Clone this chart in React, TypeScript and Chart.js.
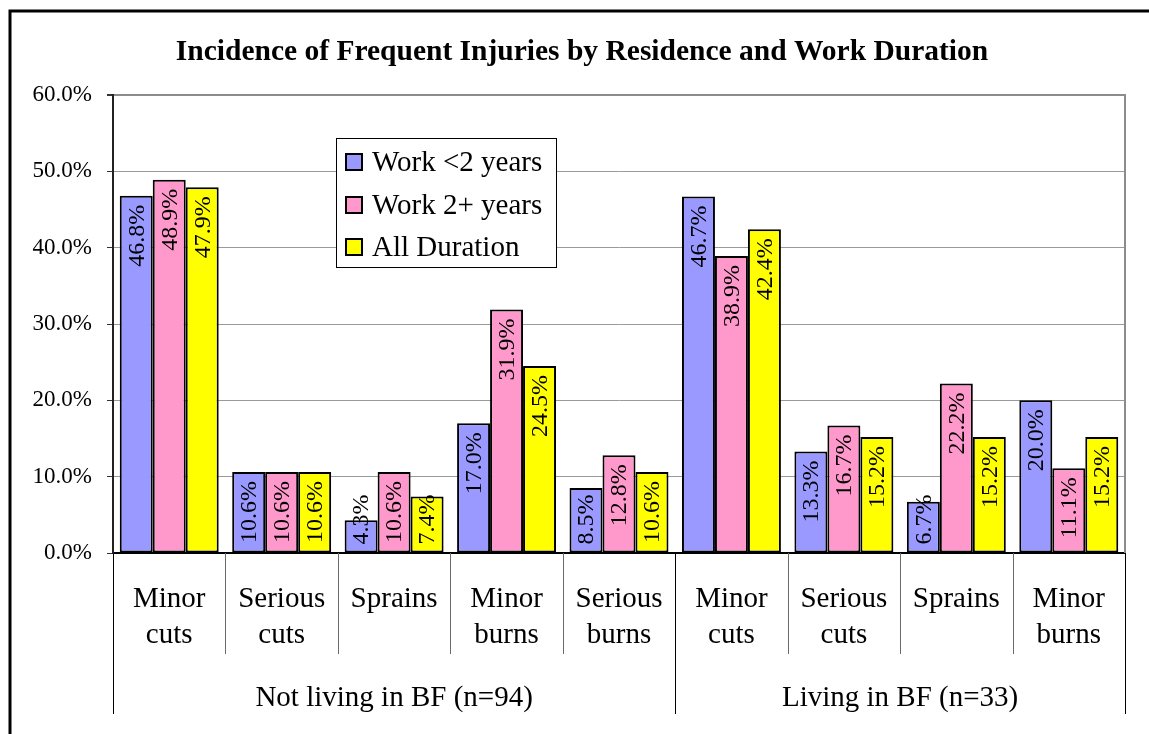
import { useEffect, useRef } from "react";
import { Chart, registerables } from "chart.js";
Chart.register(...registerables);

const categoryLines: string[][] = [
  ["Minor", "cuts"],
  ["Serious", "cuts"],
  ["Sprains"],
  ["Minor", "burns"],
  ["Serious", "burns"],
  ["Minor", "cuts"],
  ["Serious", "cuts"],
  ["Sprains"],
  ["Minor", "burns"],
];
const groupLabels = ["Not living in BF (n=94)", "Living in BF (n=33)"];
const groupSizes = [5, 4];
const seriesNames = ["Work <2 years", "Work 2+ years", "All Duration"];
const workUnder2 = [46.8, 10.6, 4.3, 17.0, 8.5, 46.7, 13.3, 6.7, 20.0];
const work2Plus = [48.9, 10.6, 10.6, 31.9, 12.8, 38.9, 16.7, 22.2, 11.1];
const allDuration = [47.9, 10.6, 7.4, 24.5, 10.6, 42.4, 15.2, 15.2, 15.2];
const seriesColors = ["#9999FF", "#FF99CC", "#FFFF00"];
const yMin = 0;
const yMax = 60;
const yStep = 10;
const titleText = "Incidence of Frequent Injuries by Residence and Work Duration";

const SERIF = "'Liberation Serif', 'Times New Roman', serif";

export default function App() {
  const ref = useRef<HTMLCanvasElement | null>(null);
  useEffect(() => {
    const canvas = ref.current;
    if (!canvas) return;

    const framePlugin = {
      id: "frame",
      beforeDraw(chart: any) {
        const ctx = chart.ctx;
        ctx.save();
        ctx.fillStyle = "#ffffff";
        ctx.fillRect(0, 0, chart.width, chart.height);
        ctx.strokeStyle = "#000000";
        ctx.lineWidth = 3;
        ctx.strokeRect(10, 11, 1300, 900);
        // title
        ctx.fillStyle = "#000";
        ctx.font = `bold 29.5px ${SERIF}`;
        ctx.textAlign = "center";
        ctx.textBaseline = "alphabetic";
        ctx.fillText(titleText, 582, 60);
        ctx.restore();
      },
      afterDraw(chart: any) {
        const ctx = chart.ctx;
        const xs = chart.scales.x;
        const area = chart.chartArea;
        ctx.save();
        // right plot border
        ctx.strokeStyle = "#8c8c8c";
        ctx.lineWidth = 2;
        ctx.beginPath();
        ctx.moveTo(area.right, area.top - 1);
        ctx.lineTo(area.right, area.bottom);
        ctx.stroke();
        // separators
        const outer = new Set<number>([0]);
        let acc = 0;
        groupSizes.forEach((g) => {
          acc += g;
          outer.add(acc);
        });
        for (let k = 0; k <= categoryLines.length; k++) {
          const x = Math.round(xs.getPixelForValue(k - 0.5)) + 0.5;
          const isOuter = outer.has(k);
          ctx.strokeStyle = isOuter ? "#000" : "#6a6a6a";
          ctx.lineWidth = 1;
          ctx.beginPath();
          ctx.moveTo(x, area.bottom);
          ctx.lineTo(x, isOuter ? 714 : 654);
          ctx.stroke();
        }
        // category labels
        ctx.fillStyle = "#000";
        ctx.font = `29px ${SERIF}`;
        ctx.textAlign = "center";
        ctx.textBaseline = "alphabetic";
        categoryLines.forEach((lines, i) => {
          const x = xs.getPixelForValue(i);
          lines.forEach((t, j) => ctx.fillText(t, x, 607 + j * 36));
        });
        // group labels
        let start = 0;
        groupLabels.forEach((g, gi) => {
          const end = start + groupSizes[gi];
          const x0 = xs.getPixelForValue(start - 0.5);
          const x1 = xs.getPixelForValue(end - 0.5);
          ctx.fillText(g, (x0 + x1) / 2, 706);
          start = end;
        });
        // legend
        const lx = 336, ly = 138, lw = 220, lh = 129;
        ctx.fillStyle = "#fff";
        ctx.fillRect(lx, ly, lw, lh);
        ctx.strokeStyle = "#000";
        ctx.lineWidth = 1;
        ctx.strokeRect(lx + 0.5, ly + 0.5, lw, lh);
        const rows = [162, 205, 247];
        seriesNames.forEach((n, i) => {
          ctx.fillStyle = seriesColors[i];
          ctx.fillRect(346, rows[i] - 8, 16, 16);
          ctx.strokeStyle = "#000";
          ctx.lineWidth = 2;
          ctx.strokeRect(346, rows[i] - 8, 16, 16);
          ctx.fillStyle = "#000";
          ctx.font = `29px ${SERIF}`;
          ctx.textAlign = "left";
          ctx.textBaseline = "middle";
          ctx.fillText(n, 372, rows[i] + 1);
        });
        ctx.restore();
      },
      afterDatasetsDraw(chart: any) {
        const ctx = chart.ctx;
        ctx.save();
        ctx.font = `24px ${SERIF}`;
        ctx.fillStyle = "#000";
        ctx.textAlign = "right";
        ctx.textBaseline = "middle";
        chart.data.datasets.forEach((ds: any, di: number) => {
          const meta = chart.getDatasetMeta(di);
          meta.data.forEach((bar: any, i: number) => {
            const v = ds.data[i];
            const txt = v.toFixed(1) + "%";
            const w = ctx.measureText(txt).width;
            const base = bar.base;
            let anchor = bar.y + 9;
            if (anchor + w > base - 8) anchor = base - 8 - w;
            ctx.save();
            ctx.translate(bar.x + 1, anchor);
            ctx.rotate(-Math.PI / 2);
            ctx.fillText(txt, 0, 0);
            ctx.restore();
          });
        });
        ctx.restore();
      },
    };

    const chart = new Chart(canvas, {
      type: "bar",
      data: {
        labels: categoryLines.map((l) => l.join(" ")),
        datasets: [workUnder2, work2Plus, allDuration].map((d, i) => ({
          label: seriesNames[i],
          data: d,
          backgroundColor: seriesColors[i],
          borderColor: "#000",
          borderWidth: 2,
          borderSkipped: false,
          categoryPercentage: 0.88,
          barPercentage: 1.0,
        })),
      },
      options: {
        responsive: false,
        animation: false,
        devicePixelRatio: 1,
        layout: { padding: { left: 0, top: 95, right: 24, bottom: 0 } },
        plugins: {
          legend: { display: false },
          title: { display: false },
          tooltip: { enabled: false },
        },
        scales: {
          x: {
            grid: { display: false },
            ticks: { display: false },
            border: { display: true, color: "#000", width: 2 },
            afterFit(scale: any) {
              scale.height = 181;
            },
          },
          y: {
            min: yMin,
            max: yMax,
            ticks: {
              stepSize: yStep,
              padding: 15,
              color: "#000",
              font: { family: SERIF, size: 23 },
              callback: (v: any) => Number(v).toFixed(1) + "%",
            },
            grid: {
              color: (c: any) => (c.tick && c.tick.value === yMax ? "#8c8c8c" : "#9a9a9a"),
              lineWidth: (c: any) => (c.tick && c.tick.value === yMax ? 2 : 1),
              tickColor: "#333",
              tickLength: 6,
            },
            border: { display: true, color: "#222", width: 2 },
            afterFit(scale: any) {
              scale.width = 113;
            },
          },
        },
      },
      plugins: [framePlugin],
    } as any);
    return () => chart.destroy();
  }, []);

  return (
    <div style={{ position: "fixed", left: 0, top: 0, width: 1149, height: 734, background: "#fff" }}>
      <canvas ref={ref} width={1149} height={734} style={{ display: "block" }} />
    </div>
  );
}
